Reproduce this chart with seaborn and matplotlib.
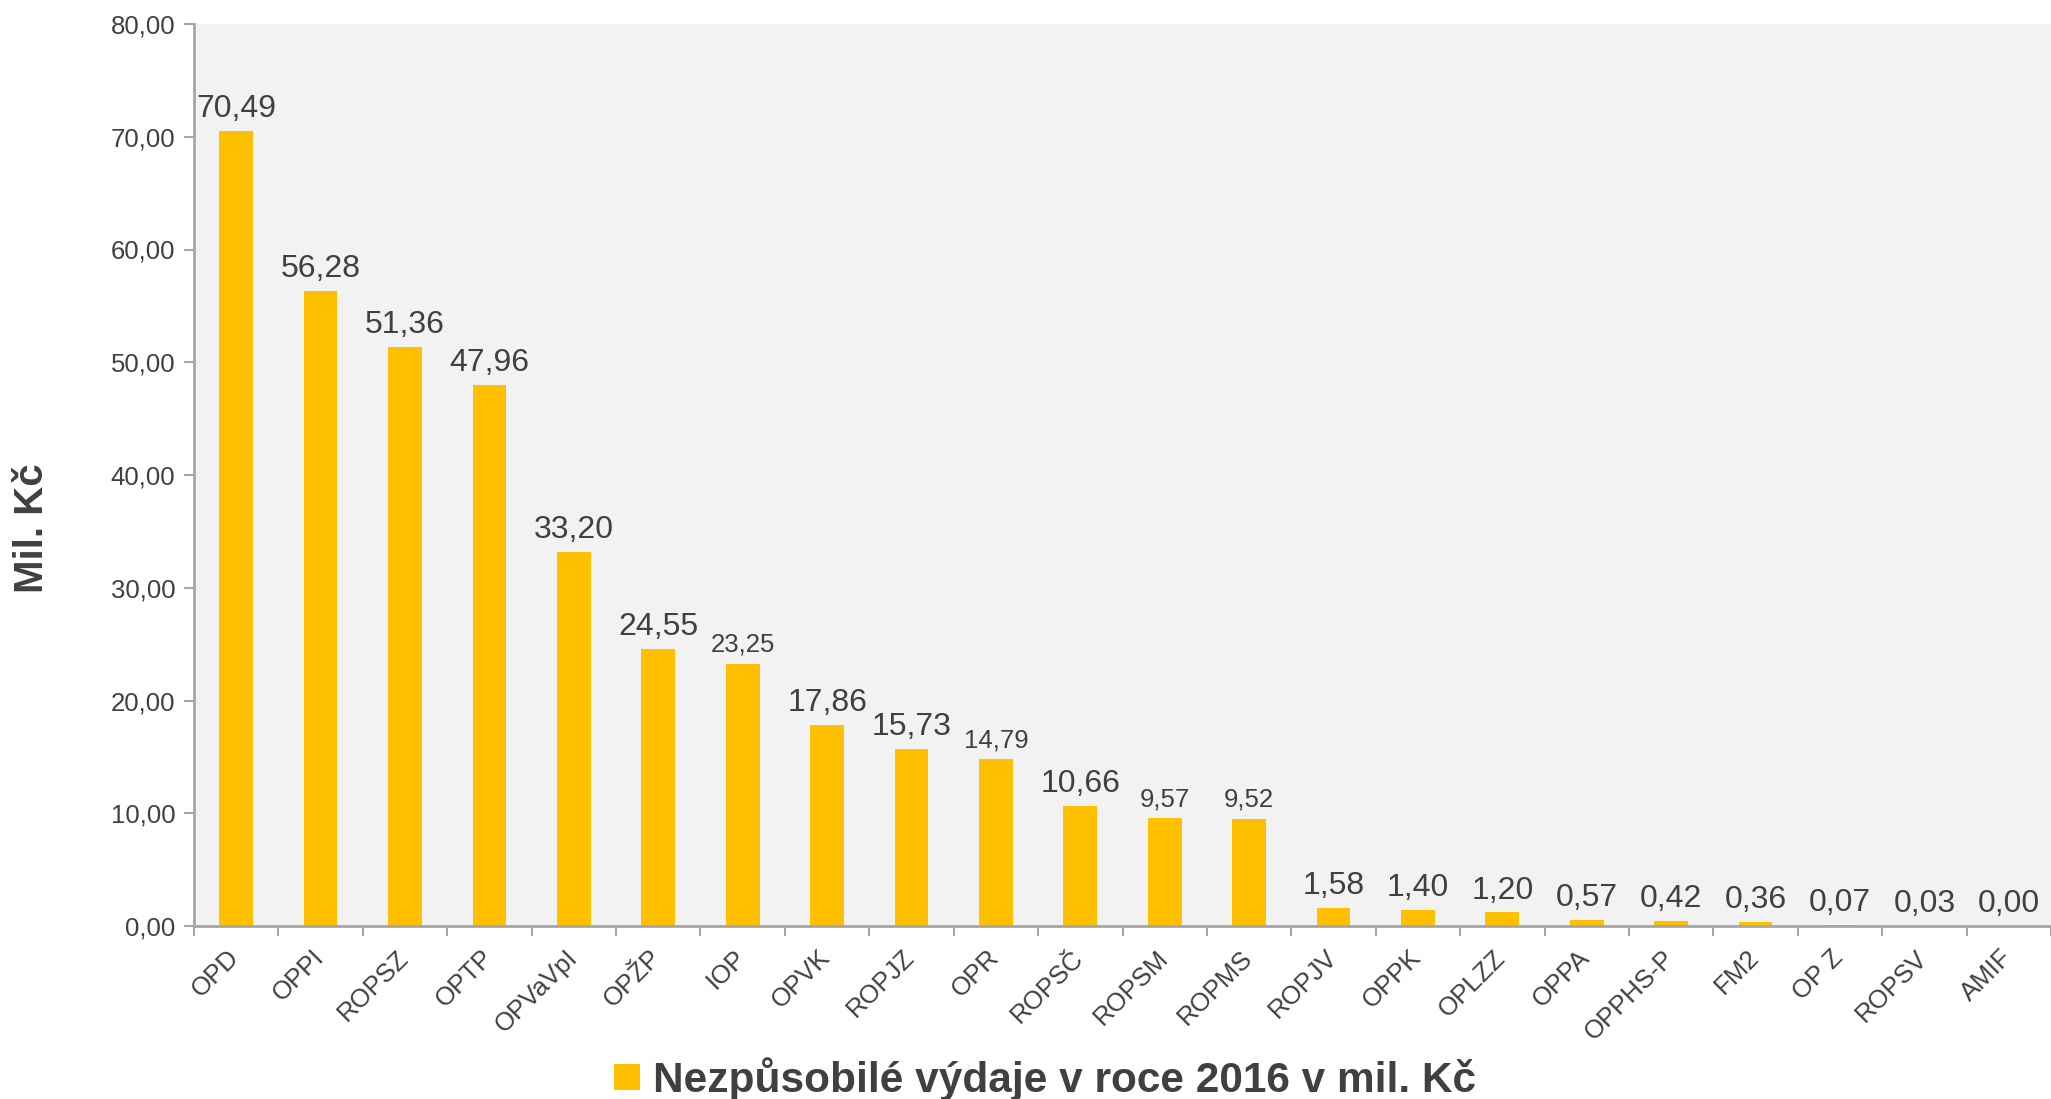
import matplotlib
matplotlib.use("Agg")
from matplotlib import pyplot as plt
from matplotlib.patches import Patch
from matplotlib.transforms import ScaledTranslation
import numpy as np
import pandas as pd
import seaborn as sns

categories = ["OPD", "OPPI", "ROPSZ", "OPTP", "OPVaVpI", "OPŽP", "IOP", "OPVK",
              "ROPJZ", "OPR", "ROPSČ", "ROPSM", "ROPMS", "ROPJV", "OPPK", "OPLZZ",
              "OPPA", "OPPHS-P", "FM2", "OP Z", "ROPSV", "AMIF"]
values = [70.49, 56.28, 51.36, 47.96, 33.20, 24.55, 23.25, 17.86,
          15.73, 14.79, 10.66, 9.57, 9.52, 1.58, 1.40, 1.20,
          0.57, 0.42, 0.36, 0.07, 0.03, 0.00]
yticks = [0, 10, 20, 30, 40, 50, 60, 70, 80]
series_name = "Nezpůsobilé výdaje v roce 2016 v mil. Kč"
y_title = "Mil. Kč"

bar_color = "#FFC000"
text_color = "#404040"
axis_color = "#A6A6A6"
small_labels = {"IOP", "OPR", "ROPSM", "ROPMS"}

df = pd.DataFrame({"program": categories, "value": values})

sns.set_style("white")
plt.rcParams["font.family"] = ["Liberation Sans", "DejaVu Sans"]

fig = plt.figure(figsize=(20.51, 10.99), dpi=100)
ax = fig.add_axes([194 / 2051, 1 - 926 / 1099, 1 - 194 / 2051, (926 - 24) / 1099])
ax.set_facecolor("#F2F2F2")

sns.barplot(data=df, x="program", y="value", color=bar_color, width=0.4,
            saturation=1, linewidth=0, ax=ax)

ax.set_xlim(-0.5, len(categories) - 0.5)
ax.set_ylim(0, 80)
ax.set_yticks(yticks)
ax.set_yticklabels([f"{t:.2f}".replace(".", ",") for t in yticks])
ax.set_xlabel("")
ax.set_ylabel("")

# value labels above bars
texts = ax.bar_label(ax.containers[0],
                     labels=[f"{v:.2f}".replace(".", ",") for v in values],
                     padding=5, color=text_color, fontsize=23)
for t, cat in zip(texts, categories):
    if cat in small_labels:
        t.set_fontsize(18.5)

for side in ["top", "right"]:
    ax.spines[side].set_visible(False)
for side in ["left", "bottom"]:
    ax.spines[side].set_color(axis_color)
    ax.spines[side].set_linewidth(2)

ax.tick_params(axis="y", colors=axis_color, length=7.5, width=1.5, pad=6,
               labelsize=18.5, labelcolor=text_color, left=True)
ax.set_xticks(np.arange(len(categories)))
ax.set_xticklabels(categories, rotation=45, ha="right")
ax.tick_params(axis="x", which="major", length=0, pad=14, labelsize=18.5,
               labelcolor=text_color)
ax.set_xticks(np.arange(len(categories) + 1) - 0.5, minor=True)
ax.tick_params(axis="x", which="minor", colors=axis_color, length=7.5, width=1.5,
               bottom=True)
shift = ScaledTranslation(0.08, 0, fig.dpi_scale_trans)
for lbl in ax.get_xticklabels():
    lbl.set_transform(lbl.get_transform() + shift)

fig.text(32 / 2051, 1 - 528 / 1099, y_title, rotation=90, ha="center",
         va="center", fontsize=29, fontweight="bold", color=text_color)

handle = Patch(facecolor=bar_color, edgecolor="none")
leg = fig.legend([handle], [series_name], loc="center",
                 bbox_to_anchor=(1045 / 2051, 1 - 1079 / 1099), frameon=False,
                 prop={"size": 30.5, "weight": "bold"}, handlelength=0.6,
                 handleheight=0.6, handletextpad=0.3, labelcolor=text_color)

fig.savefig("out.png", dpi=100)
